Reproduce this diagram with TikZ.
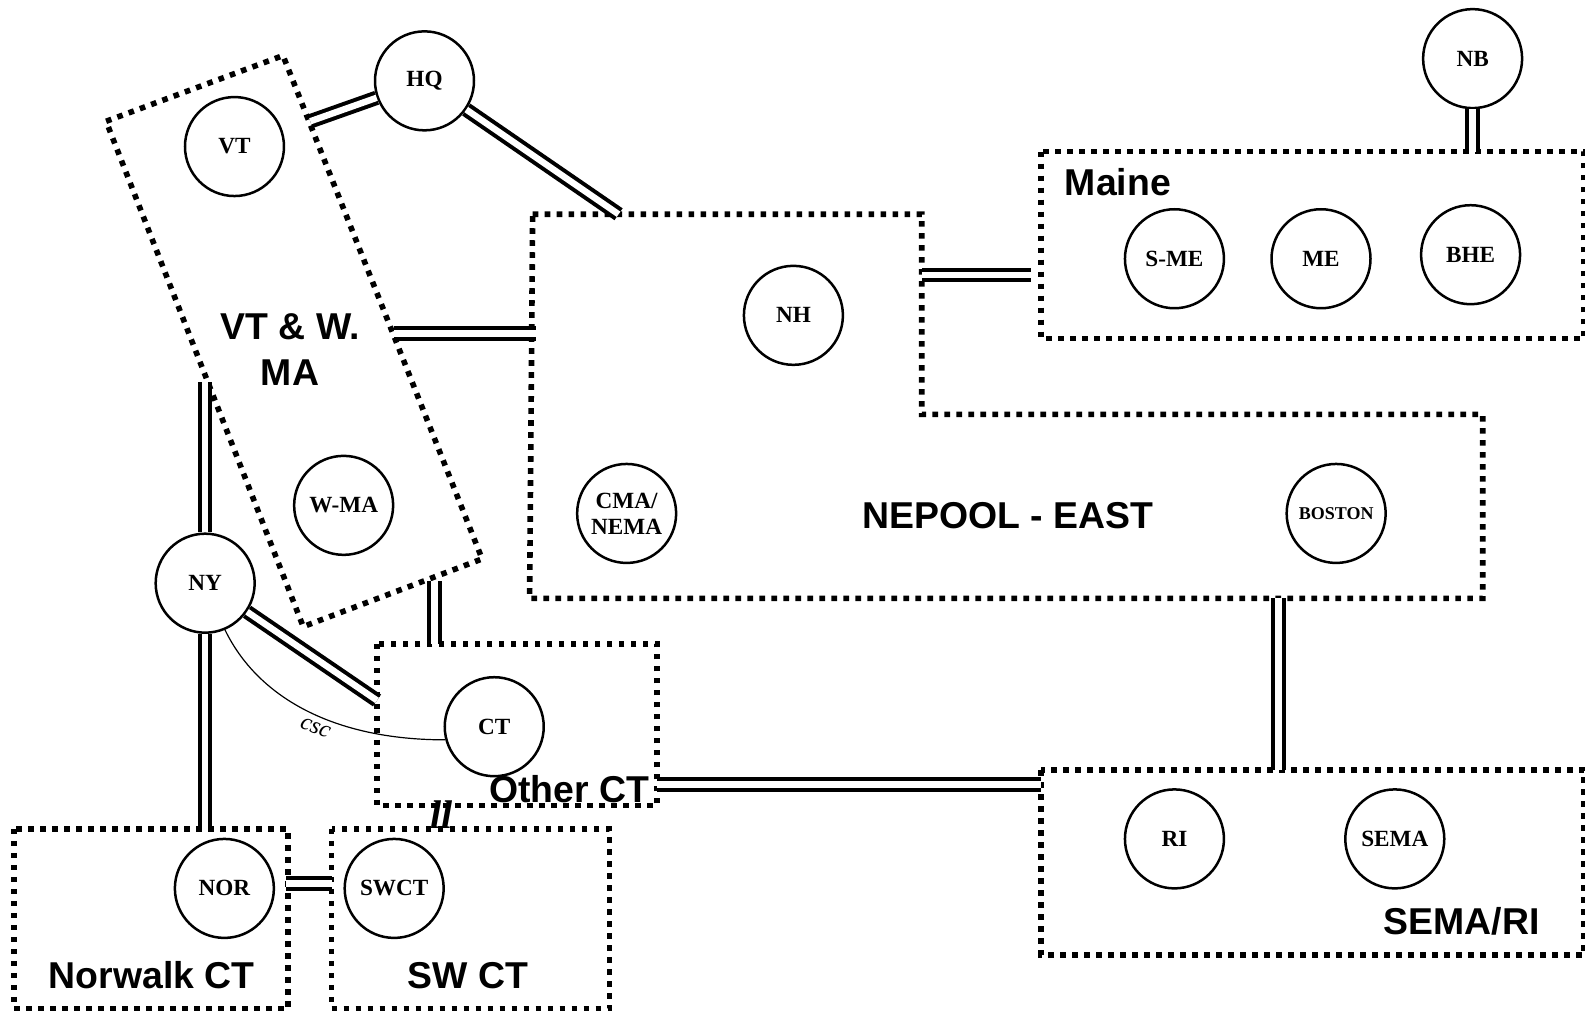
\documentclass[tikz,border=0pt]{standalone}
\usepackage{fontspec}
\setmainfont{Liberation Serif}
\newfontfamily\arialfont{Liberation Sans}
\begin{document}
\begin{tikzpicture}[x=0.5054pt,y=-0.5054pt,
  site/.style={circle, draw, line width=1.25pt, minimum size=49.5pt, inner sep=0pt,
    font=\bfseries\fontsize{11.6}{13}\selectfont, align=center},
  region/.style={line width=2.8pt, dash pattern=on 2.8pt off 3.2pt},
  tie/.style={double, line width=2pt, double distance=3.2pt},
  lbl/.style={font=\arialfont\bfseries\fontsize{18.7}{22}\selectfont, align=center, inner sep=0pt},
  cable/.style={line width=0.6pt}]
\useasboundingbox (0,0) rectangle (1568.2,1002.3);

% region boxes
\draw[region] (105,120) -- (280,55) -- (477,553) -- (300,620) -- cycle;
\draw[region] (527,212) -- (912,212) -- (912,410) -- (1467,410) -- (1467,592) -- (524,592) -- cycle;
\draw[region] (1030,150) rectangle (1567,335);
\draw[region] (373,637) rectangle (650,797);
\draw[region] (14,820) rectangle (285,998);
\draw[region] (328,820) rectangle (603,998);
\draw[region] (1030,762) rectangle (1567,945);

% sites
\node[site] (hq) at (420,80) {HQ};
\node[site] (nb) at (1457,58) {NB};
\node[site] (vt) at (232,145) {VT};
\node[site] (wma) at (340,500) {W-MA};
\node[site] (ny) at (203,577) {NY};
\node[site] (nh) at (785,312) {NH};
\node[site] (cma) at (620,508) {CMA/\\NEMA};
\node[site, font=\bfseries\fontsize{9}{10}\selectfont] (boston) at (1322,508) {BOSTON};
\node[site] (sme) at (1162,256) {S-ME};
\node[site] (me) at (1307,256) {ME};
\node[site] (bhe) at (1455,252) {BHE};
\node[site] (ct) at (489,719) {CT};
\node[site] (ri) at (1162,830) {RI};
\node[site] (sema) at (1380,830) {SEMA};
\node[site] (nor) at (222,879) {NOR};
\node[site] (swct) at (390,879) {SWCT};

% connection points on region borders
\coordinate (vtbox-hq) at (307,120);
\coordinate (nepool-hq) at (612,212);
\coordinate (vtbox-e) at (390,330);
\coordinate (nepool-w) at (530,330);
\coordinate (nepool-e) at (912,272);
\coordinate (maine-w) at (1020,272);
\coordinate (maine-top) at (1457,150);
\coordinate (vtbox-ny) at (203,378);
\coordinate (othct-nw) at (373,693);
\coordinate (vtbox-s) at (430,575);
\coordinate (othct-top) at (430,637);
\coordinate (nor-top) at (203,820);
\coordinate (nor-e) at (283,874);
\coordinate (sw-w) at (328,874);
\coordinate (othct-e) at (650,776);
\coordinate (sema-w) at (1030,776);
\coordinate (nepool-s) at (1265,592);
\coordinate (sema-top) at (1265,762);

% ties
\draw[tie] (hq) -- (vtbox-hq);
\draw[tie] (hq) -- (nepool-hq);
\draw[tie] (vtbox-e) -- (nepool-w);
\draw[tie] (nepool-e) -- (maine-w);
\draw[tie] (nb) -- (maine-top);
\draw[tie] (ny.north) -- (vtbox-ny);
\draw[tie] (ny) -- (othct-nw);
\draw[tie] (vtbox-s) -- (othct-top);
\draw[tie] (ny.south) -- (nor-top);
\draw[tie] (nor-e) -- (sw-w);
\draw[tie] (othct-e) -- (sema-w);
\draw[tie] (nepool-s) -- (sema-top);

% csc cable
\draw[cable] (ny.293) .. controls (255,690) and (330,732) .. (ct.195);
\node[font=\itshape\fontsize{12}{13}\selectfont, rotate=-22, inner sep=0pt] (csc) at (312,720) {csc};

% region labels
\node[lbl] (lvt) at (287,346) {VT \& W.\\[1pt]MA};
\node[lbl] (lmaine) at (1106,180) {Maine};
\node[lbl] (lnepool) at (997,510) {NEPOOL - EAST};
\node[lbl] (loth) at (563,781) {Other CT};
\node[lbl] (lsema) at (1446,912) {SEMA/RI};
\node[lbl] (lnor) at (150,965) {Norwalk CT};
\node[lbl] (lsw) at (463,965) {SW CT};
\node[font=\bfseries\itshape\fontsize{20}{20}\selectfont, inner sep=0pt] (mark) at (437,806) {ll};
\end{tikzpicture}
\end{document}
